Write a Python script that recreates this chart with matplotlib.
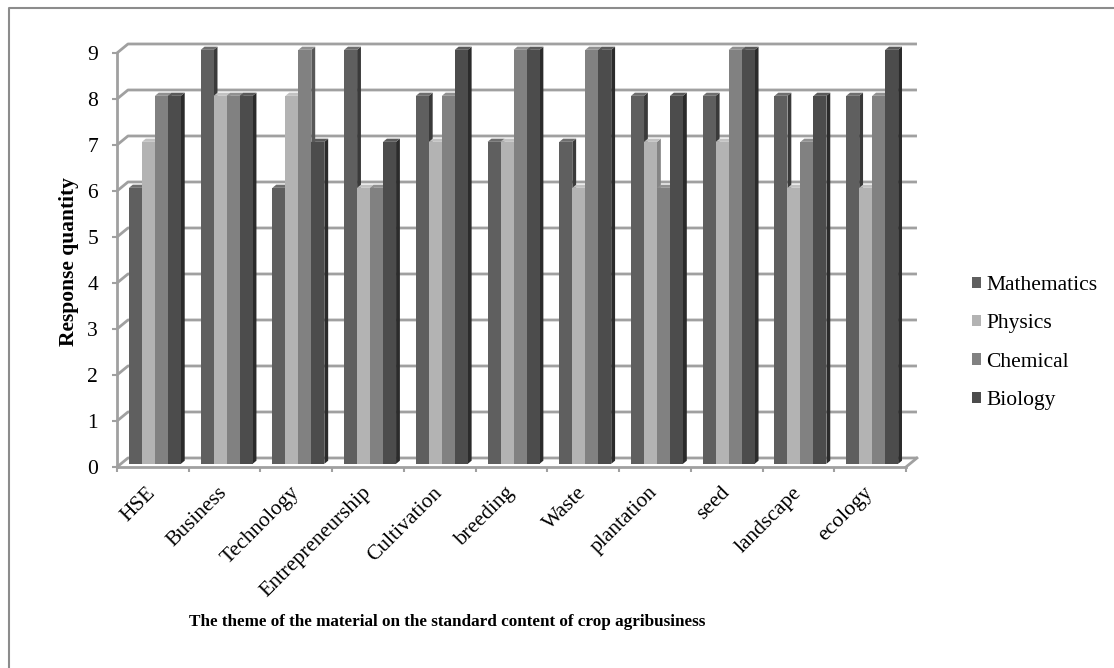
import numpy as np
import matplotlib
matplotlib.use("Agg")
import matplotlib.pyplot as plt
from matplotlib.patches import Polygon

categories = ["HSE", "Business", "Technology", "Entrepreneurship", "Cultivation",
              "breeding", "Waste", "plantation", "seed", "landscape", "ecology"]
series = ["Mathematics", "Physics", "Chemical", "Biology"]
mathematics = [6, 9, 6, 9, 8, 7, 7, 8, 8, 8, 8]
physics = [7, 8, 8, 6, 7, 7, 6, 7, 7, 6, 6]
chemical = [8, 8, 9, 6, 8, 9, 9, 6, 9, 7, 8]
biology = [8, 8, 7, 7, 9, 9, 9, 8, 9, 8, 9]
values = [mathematics, physics, chemical, biology]

front = ["#5f5f5f", "#b3b3b3", "#818181", "#4c4c4c"]
side = ["#3a3a3a", "#858585", "#585858", "#2b2b2b"]
top = ["#6e6e6e", "#c2c2c2", "#909090", "#5a5a5a"]
grid = "#a0a0a0"

plt.rcParams['font.family'] = ['Liberation Serif', 'DejaVu Serif']

W, H = 1114, 668
fig = plt.figure(figsize=(W / 100, H / 100), dpi=100)
ax = fig.add_axes([117 / W, (H - 467) / H, 789 / W, 414 / H])
n = len(categories)
ax.set_xlim(0, n)
ax.set_ylim(0, 9)

# depth of the 3d box, in data units
dxf, dyf = 0.153, 0.196
fd = 0.35   # front face of bars sits this far back
bd = 0.35   # bar depth

# back wall gridlines + left wall diagonals
for v in range(10):
    ax.plot([0, dxf, n + dxf], [v, v + dyf, v + dyf], color=grid, lw=2,
            clip_on=False, zorder=1, solid_capstyle='butt')
# floor
ax.plot([n, n + dxf], [0, dyf], color=grid, lw=2, clip_on=False, zorder=1)

# bars
w = 0.181
x0 = np.arange(n) + 0.475 - 2 * w
sx, sy = fd * dxf, fd * dyf
bx, by = bd * dxf, bd * dyf
for j, vals in enumerate(values):
    xs = x0 + j * w + sx
    rects = ax.bar(xs, vals, w, bottom=sy, align='edge', color=front[j],
                   label=series[j], linewidth=0, clip_on=False)
    for i, r in enumerate(rects):
        z = 3 + (i * 4 + j) * 3
        l, b, h = xs[i], sy, vals[i]
        ax.add_patch(Polygon([[l + w, b], [l + w + bx, b + by],
                              [l + w + bx, b + h + by], [l + w, b + h]],
                             closed=True, color=side[j], lw=0, zorder=z, clip_on=False))
        ax.add_patch(Polygon([[l, b + h], [l + w, b + h],
                              [l + w + bx, b + h + by], [l + bx, b + h + by]],
                             closed=True, color=top[j], lw=0, zorder=z + 1, clip_on=False))
        r.set_zorder(z + 2)

for s in ['top', 'right']:
    ax.spines[s].set_visible(False)
for s in ['left', 'bottom']:
    ax.spines[s].set_color(grid)
    ax.spines[s].set_linewidth(2)
    ax.spines[s].set_zorder(200)

ax.set_yticks(range(10))
ax.tick_params(axis='y', length=3.6, width=1.5, color=grid, pad=10, labelsize=15.5)
ax.set_xticks(np.arange(n + 1))
ax.set_xticklabels([])
ax.tick_params(axis='x', length=3.6, width=1.5, color=grid)

for i, c in enumerate(categories):
    ax.text(i + 0.5, -0.5, c, rotation=45, ha='right', va='center',
            rotation_mode='anchor', fontsize=15.5)

fig.text(69 / W, 1 - 262 / H, "Response quantity", rotation=90, ha='center',
         va='center', fontsize=15.5, fontweight='bold')
fig.text(447 / W, 1 - 622 / H,
         "The theme of the material on the standard content of crop agribusiness",
         ha='center', va='center', fontsize=12.3, fontweight='bold')

handles, labels = ax.get_legend_handles_labels()
fig.legend(handles, labels, loc='center left', bbox_to_anchor=(961 / W, 1 - 343 / H),
           frameon=False, borderpad=0, handlelength=0.42, handleheight=0.42,
           handletextpad=0.25, labelspacing=0.9, fontsize=15.5)

# outer chart border (left and top only visible)
fig.add_artist(plt.Line2D([9 / W, 9 / W, 1], [0, 1 - 8 / H, 1 - 8 / H],
                          transform=fig.transFigure, color="#8c8c8c", lw=1.5))

fig.savefig("out.png", dpi=100)
